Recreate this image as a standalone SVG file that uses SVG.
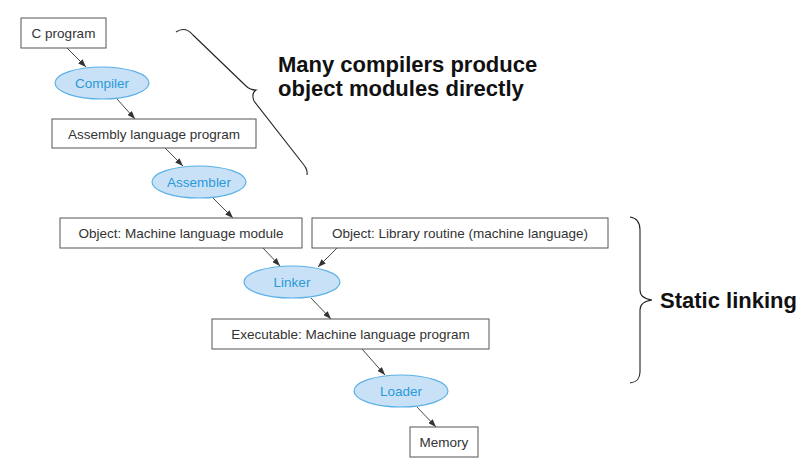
<svg xmlns="http://www.w3.org/2000/svg" width="808" height="474" viewBox="0 0 808 474">
<style>
.box{fill:#fff;stroke:#555;stroke-width:1}
.bt{font-family:"Liberation Sans",Arial,sans-serif;font-size:13.5px;fill:#333;text-anchor:middle}
.ell{fill:#c9e1f6;stroke:#5ab0e6;stroke-width:1.2}
.et{font-family:"Liberation Sans",Arial,sans-serif;font-size:13.5px;fill:#2a9ad8;text-anchor:middle}
.con{stroke:#333;stroke-width:0.9;fill:none;marker-end:url(#ah)}
.brace{stroke:#222;stroke-width:1.1;fill:none}
.big{font-family:"Liberation Sans",Arial,sans-serif;font-size:22px;font-weight:bold;fill:#111}
</style>
<defs>
<marker id="ah" markerWidth="8" markerHeight="6" refX="8" refY="3" orient="auto" markerUnits="userSpaceOnUse">
<path d="M0,0 L8,3 L0,6 Z" fill="#333"/>
</marker>
</defs>
<rect width="808" height="474" fill="#fff"/>
<g id="connectors">
<line class="con" x1="67" y1="48" x2="86" y2="67"/>
<line class="con" x1="117" y1="99" x2="135" y2="119"/>
<line class="con" x1="165" y1="148" x2="183" y2="166"/>
<line class="con" x1="213" y1="198" x2="233" y2="218"/>
<line class="con" x1="263" y1="248" x2="280" y2="266"/>
<line class="con" x1="337" y1="248" x2="318" y2="267"/>
<line class="con" x1="311" y1="298" x2="331" y2="319"/>
<line class="con" x1="362" y1="349" x2="385" y2="375"/>
<line class="con" x1="417" y1="407" x2="436" y2="427"/>
</g>
<g id="c-program"><rect class="box" x="21" y="18" width="85" height="30"/><text class="bt" x="63.5" y="38">C program</text></g>
<g id="compiler"><ellipse class="ell" cx="102" cy="83" rx="47" ry="16"/><text class="et" x="102" y="88">Compiler</text></g>
<g id="assembly"><rect class="box" x="52" y="119" width="204" height="29"/><text class="bt" x="154" y="138.5">Assembly language program</text></g>
<g id="assembler"><ellipse class="ell" cx="199" cy="182" rx="47" ry="16"/><text class="et" x="199" y="187">Assembler</text></g>
<g id="object-module"><rect class="box" x="60" y="218" width="242" height="30"/><text class="bt" x="181" y="238">Object: Machine language module</text></g>
<g id="object-library"><rect class="box" x="312" y="218" width="296" height="30"/><text class="bt" x="460" y="238">Object: Library routine (machine language)</text></g>
<g id="linker"><ellipse class="ell" cx="292" cy="282" rx="48" ry="16"/><text class="et" x="292" y="287">Linker</text></g>
<g id="executable"><rect class="box" x="212" y="319" width="277" height="30"/><text class="bt" x="350.5" y="339">Executable: Machine language program</text></g>
<g id="loader"><ellipse class="ell" cx="401" cy="391" rx="47" ry="16"/><text class="et" x="401" y="396">Loader</text></g>
<g id="memory"><rect class="box" x="410" y="427" width="68" height="30"/><text class="bt" x="444" y="447">Memory</text></g>
<g id="brace-compilers">
<path class="brace" d="M176,32 C182,28 188,29 193,35 L246,86 C249,89 252,90 256,90 C253,92 252,96 254,101 L300,160 C305,166 308,170 307,175"/>
<text class="big" x="278" y="72">Many compilers produce</text>
<text class="big" x="278" y="96">object modules directly</text>
</g>
<g id="brace-static">
<path class="brace" d="M630,217 C637,218 640,222 640,230 L640,290 C640,296 644,299 652,300 C644,301 640,304 640,310 L640,372 C640,379 637,382 630,383"/>
<text class="big" x="660" y="308">Static linking</text>
</g>
</svg>
